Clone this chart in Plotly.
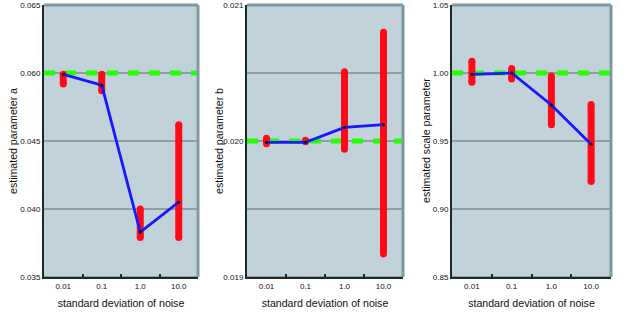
import plotly.graph_objects as go

categories = ["0.01", "0.1", "1.0", "10.0"]

# panel 1: estimated parameter a
a_mean = [0.0599, 0.0591, 0.0483, 0.0505]
a_low = [0.0592, 0.0587, 0.0479, 0.0479]
a_high = [0.0599, 0.0599, 0.0500, 0.0562]
a_true = 0.060
a_tickvals = [0.045, 0.050, 0.055, 0.060, 0.065]
a_ticktext = ["0.035", "0.040", "0.045", "0.060", "0.065"]

# panel 2: estimated parameter b
b_mean = [0.01999, 0.01999, 0.02010, 0.02012]
b_low = [0.01998, 0.019995, 0.01994, 0.01917]
b_high = [0.02002, 0.020005, 0.02051, 0.02080]
b_true = 0.020
b_tickvals = [0.019, 0.0195, 0.020, 0.0205, 0.021]
b_ticktext = ["0.019", "", "0.020", "", "0.021"]

# panel 3: estimated scale parameter
s_mean = [0.999, 1.000, 0.9765, 0.9476]
s_low = [0.9932, 0.9956, 0.962, 0.9202]
s_high = [1.0086, 1.0033, 0.9978, 0.9768]
s_true = 1.0
s_tickvals = [0.85, 0.90, 0.95, 1.00, 1.05]
s_ticktext = ["0.85", "0.90", "0.95", "1.00", "1.05"]

y_titles = ["estimated parameter a", "estimated parameter b", "estimated scale parameter"]
x_title = "standard deviation of noise"

W, H = 631, 320
panels_px = [(44, 198), (247, 403), (452, 611)]
ytitle_px = [13, 219, 426]
top_px, bot_px = 5, 277

RED = "#ff0a16"
BLUE = "#1818ff"
GREEN = "#22ff00"
BG = "#c2d2da"
GRID = "#5e686a"
AXIS = "#1c2a2a"
BORDER = "#7d9aa2"
TICKFONT = dict(family="Liberation Sans Narrow, Arial Narrow, Liberation Sans, sans-serif", size=8, color="#111")
TITLEFONT = dict(family="Liberation Sans, Arial, sans-serif", size=10.6, color="#111")

fig = go.Figure()

data = [
    (a_mean, a_low, a_high, a_true, a_tickvals, a_ticktext, [0.045, 0.065]),
    (b_mean, b_low, b_high, b_true, b_tickvals, b_ticktext, [0.019, 0.021]),
    (s_mean, s_low, s_high, s_true, s_tickvals, s_ticktext, [0.85, 1.05]),
]

layout = dict(
    width=W, height=H, margin=dict(l=0, r=0, t=0, b=0),
    paper_bgcolor="white", showlegend=False,
)
shapes = []
annotations = []
ydom = [(H - bot_px) / H, (H - top_px) / H]

for i, (mean, low, high, true, tv, tt, rng) in enumerate(data):
    n = "" if i == 0 else str(i + 1)
    xa, ya = "x" + n, "y" + n
    xs, ys = [], []
    for c, lo, hi in zip(categories, low, high):
        xs += [c, c, None]
        ys += [lo, hi, None]
    fig.add_trace(go.Scatter(x=xs, y=ys, mode="lines+markers", xaxis=xa, yaxis=ya,
                             line=dict(color=RED, width=7),
                             marker=dict(color=RED, size=7, line=dict(width=0)),
                             hoverinfo="skip"))
    fig.add_trace(go.Scatter(x=categories, y=mean, mode="lines+markers", xaxis=xa, yaxis=ya,
                             line=dict(color=BLUE, width=2.8),
                             marker=dict(color="black", size=3)))
    x0, x1 = panels_px[i]
    layout["xaxis" + n] = dict(
        domain=[x0 / W, x1 / W], anchor=ya, type="category", range=[-0.5, 3.5],
        categoryorder="array", categoryarray=categories,
        showline=True, linecolor=AXIS, linewidth=2, showgrid=False,
        ticks="inside", ticklen=3, tickcolor=AXIS, tickwidth=1.5, tickson="boundaries",
        tickfont=TICKFONT, automargin=False, zeroline=False,
        title=dict(text=x_title, font=TITLEFONT, standoff=10),
    )
    layout["yaxis" + n] = dict(
        domain=ydom, anchor=xa, range=rng, tickvals=tv, ticktext=tt,
        showline=True, linecolor=AXIS, linewidth=2,
        showgrid=False, zeroline=False, ticklabeloverflow="allow",
        ticks="", tickfont=TICKFONT, automargin=False,
    )
    annotations.append(dict(text=y_titles[i], font=TITLEFONT, textangle=-90,
                            xref="paper", yref="paper", x=ytitle_px[i] / W,
                            y=(H - (top_px + bot_px) / 2) / H,
                            xanchor="center", yanchor="middle", showarrow=False))
    # gridlines at tick values (below everything)
    for v in tv:
        shapes.append(dict(type="line", xref=xa + " domain", yref=ya, x0=0, x1=1, y0=v, y1=v,
                           line=dict(color=GRID, width=1), layer="below"))
    # true value dashed line
    shapes.append(dict(type="line", xref=xa + " domain", yref=ya, x0=0, x1=1, y0=true, y1=true,
                       line=dict(color=GREEN, width=5, dash="11px,10px"), layer="below"))
    # top & right frame
    shapes.append(dict(type="line", xref=xa + " domain", yref=ya + " domain", x0=0, x1=1, y0=1, y1=1,
                       line=dict(color=BORDER, width=3), layer="above"))
    shapes.append(dict(type="line", xref=xa + " domain", yref=ya + " domain", x0=1, x1=1, y0=0, y1=1,
                       line=dict(color=BORDER, width=3), layer="above"))

layout["shapes"] = shapes
layout["annotations"] = annotations
fig.update_layout(**layout)
fig.update_layout(plot_bgcolor=BG)

fig.write_html("out.html", config={"displayModeBar": False},
               post_script="document.body.style.margin='0px';document.body.style.overflow='hidden';")
